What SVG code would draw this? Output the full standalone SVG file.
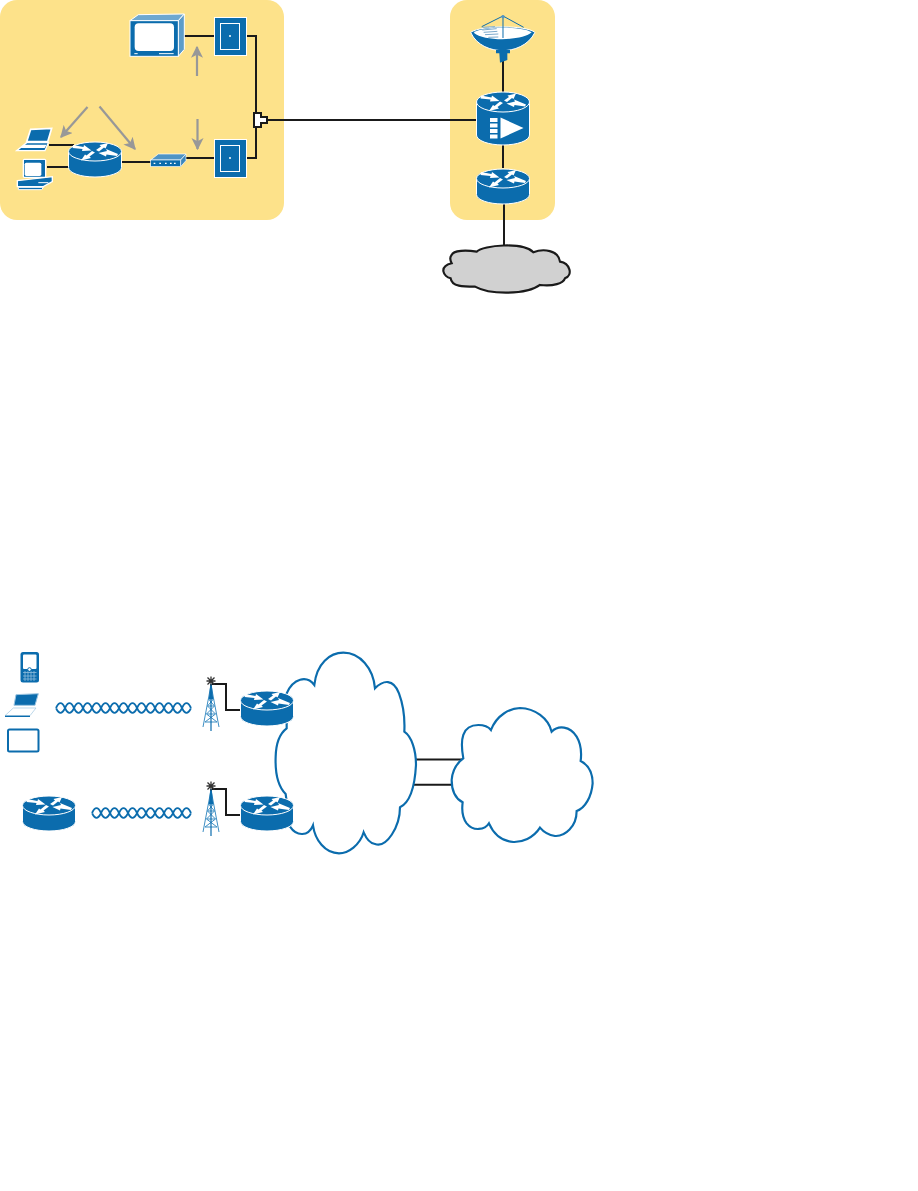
<svg xmlns="http://www.w3.org/2000/svg" width="918" height="1191" viewBox="0 0 918 1191">
<style>
.panel{fill:#fde28a}
.wire{fill:none;stroke:#1a1a1a;stroke-width:2}
.garrow{fill:none;stroke:#989898;stroke-width:2.200}
.blue{fill:#0b6cad}
.wb{fill:#0b6cad;stroke:#fff;stroke-width:1}
.wave{fill:none;stroke:#0b6cad;stroke-width:1.800}
.cloudb{fill:#fff;stroke:#0b6cad;stroke-width:6.500}
.tw{fill:none;stroke:#3f8fc4;stroke-width:1}
</style>
<defs>
<marker id="ga" viewBox="0 0 10 10" refX="9" refY="5" markerWidth="5.500" markerHeight="5.500" markerUnits="strokeWidth" orient="auto"><path d="M0 0L10 5L0 10L2.500 5Z" fill="#989898"/></marker>
<g id="rarrows" fill="#fff">
<path d="M-22 -6.500L-11.500 -4.500L-11 -6.500L-3.500 -1L-13 -0.500L-12.500 -2.500L-22.500 -3.500Z"/>
<path d="M1 -1.500L6 -5L4.500 -6.500L13 -8.500L10.500 -3L9 -4L4 0Z"/>
<path d="M0 1L-5.500 5L-4 6.500L-14 9L-10 3L-8.500 4L-3 -0.500Z"/>
<path d="M3.500 1.500L12 -0.500L11 -2.500L23 2.500L22 4.500L11.500 3L11 5Z"/>
</g>
<g id="router">
<path class="wb" d="M-26.500 -0.500V15.500A26.500 9.500 0 0 0 26.500 15.500V-0.500Z"/>
<ellipse class="wb" cx="0" cy="-0.500" rx="26.500" ry="9.500"/>
<use href="#rarrows" transform="translate(0 -0.500)"/>
</g>
<g id="jack">
<rect class="wb" x="0.500" y="0.500" width="32" height="38"/>
<rect x="6.500" y="6.500" width="19" height="26" fill="none" stroke="#fff" stroke-width="1"/>
</g>
<g id="tower">
<path class="tw" d="M0 4L-8 46M0 4L8 46M-2.500 18H2.500M-3.500 25H3.500M-4.500 33H4.500M-6 41H6M-2.500 18L3.500 25M2.500 18L-3.500 25M-3.500 25L4.500 33M3.500 25L-4.500 33M-4.500 33L6 41M4.500 33L-6 41"/>
<path d="M0 3V50" stroke="#0b6cad" stroke-width="1.200" fill="none"/>
<path d="M-0.700 3H0.700L2.200 18H-2.200Z" class="blue"/>
<path d="M-3.500 -3.500L3.500 3.500M3.500 -3.500L-3.500 3.500M0 -4.500V4.500M-4.500 0H4.500" fill="none" stroke="#333" stroke-width="1.300"/>
</g>
</defs>

<rect class="panel" x="0" y="0" width="284" height="220" rx="17"/>
<rect class="panel" x="450" y="0" width="105" height="220" rx="17"/>

<g id="connectors">
<path class="wire" d="M184 36H230"/>
<path class="wire" d="M246 36H256V113"/>
<path class="wire" d="M256 127V158H246"/>
<path class="wire" d="M186 158H230"/>
<path class="wire" d="M122 162H151"/>
<path class="wire" d="M49 145H74"/>
<path class="wire" d="M47 167H69"/>
<path class="wire" d="M267 120H476"/>
<path class="wire" d="M503 61V92"/>
<path class="wire" d="M503 145V168"/>
<path class="wire" d="M504 204V245"/>
<path class="wire" d="M212 684H226V710H241"/>
<path class="wire" d="M212 789H226V815H241"/>
<path class="wire" d="M414 759.500H464"/>
<path class="wire" d="M414 784.800H454"/>
<path class="garrow" marker-end="url(#ga)" d="M197 76V47"/>
<path class="garrow" marker-end="url(#ga)" d="M197.500 119V149"/>
<path class="garrow" marker-end="url(#ga)" d="M87.500 107L61 137"/>
<path class="garrow" marker-end="url(#ga)" d="M99.500 106.500L135 149"/>
</g>

<g id="splitter"><path d="M254 113H261V117H267V123H261V127H254Z" fill="#fff" stroke="#1a1a1a" stroke-width="2"/></g>

<g id="tv" transform="translate(125 10) scale(.3333)">
<path d="M15 32L40 14L178 12L160 32Z" fill="#6fa8d0" stroke="#fff" stroke-width="3"/>
<path d="M160 32L178 12V118L160 139Z" fill="#5d9cc9" stroke="#fff" stroke-width="3"/>
<rect x="15" y="32" width="145" height="107" fill="#0b6cad" stroke="#fff" stroke-width="3"/>
<rect x="29" y="40" width="118" height="83" rx="12" fill="#fff"/>
<path d="M28 131H38M102 131H146" stroke="#fff" stroke-width="3"/>
</g>
<use id="jack1" href="#jack" transform="translate(214 17)"/>
<use id="jack2" href="#jack" transform="translate(214 139)"/>
<circle cx="230" cy="36" r="1" fill="#fff"/>
<circle cx="230" cy="158" r="1" fill="#fff"/>

<g id="laptop1" transform="translate(10 120) scale(.3333)">
<path d="M62 28L125 25L113 65L50 65Z" fill="#0b6cad" stroke="#fff" stroke-width="5"/>
<path d="M50 68H115L105 92H20Z" fill="#0b6cad" stroke="#fff" stroke-width="4"/>
<path d="M42 74H110L104 84H30Z" fill="#fff"/>
</g>
<g id="pc1" transform="translate(10 120) scale(.3333)">
<path d="M22 182L127 170V185L100 200H22Z" fill="#0b6cad" stroke="#fff" stroke-width="4"/>
<path d="M25 202H100L95 209H25Z" fill="#0b6cad" stroke="#fff" stroke-width="3"/>
<rect x="40" y="118" width="67" height="54" rx="3" fill="#0b6cad" stroke="#fff" stroke-width="4"/>
<rect x="44" y="128" width="50" height="40" rx="5" fill="#fff"/>
<path d="M85 188H115" stroke="#fff" stroke-width="3"/>
</g>
<use id="router-home" href="#router" transform="translate(95 152)"/>
<g id="modem" transform="scale(.3333)">
<path d="M452 480L475 462H558L542 480Z" fill="#4f94c5" stroke="#fff" stroke-width="2"/>
<path d="M542 480L558 462V482L542 500Z" fill="#3b87bd" stroke="#fff" stroke-width="2"/>
<rect x="452" y="480" width="90" height="20" fill="#0b6cad" stroke="#fff" stroke-width="2"/>
<path d="M461 490h5M478 490h5M495 490h5M510 490h5M522 490h5" stroke="#fff" stroke-width="4"/>
</g>

<g id="dish" transform="translate(465 10) scale(.3333)">
<path d="M17 67C50 45 180 45 210 67C190 108 145 122 113 122C80 122 35 108 17 67Z" fill="#0b6cad" stroke="#fff" stroke-width="3"/>
<path d="M26 68C55 48 175 48 200 67C175 92 60 96 26 68Z" fill="#fff"/>
<path d="M52 52L90 50M52 60L95 56M56 67L97 64M60 74L100 72M70 82L100 81" stroke="#7aa9cc" stroke-width="3"/>
<path d="M114 18L50 50M114 18L176 52M114 18V84" fill="none" stroke="#0b6cad" stroke-width="3"/>
<circle cx="114" cy="20" r="5" fill="#4f94c5"/>
<path d="M93 120H135V130H127V150L105 158L103 130H93Z" fill="#0b6cad"/>
</g>
<g id="router-amp">
<path class="wb" d="M476.500 102V135A26.500 10 0 0 0 529.500 135V102Z"/>
<ellipse class="wb" cx="503" cy="102" rx="26.500" ry="10"/>
<use href="#rarrows" transform="translate(503 102)"/>
<path d="M490 118h7.500v4h-7.500zM490 123.500h7.500v4h-7.500zM490 129h7.500v4h-7.500zM490 134.500h7.500v4h-7.500z" fill="#fff"/>
<path d="M500.500 117.500V138.500L523.500 128Z" fill="#fff"/>
</g>
<use id="router-head" href="#router" transform="translate(503 179)"/>
<g id="cloud-gray" transform="translate(430 0) scale(.3333)">
<path d="M65 765C70 750 110 750 140 755C160 735 280 725 310 757C340 745 385 750 390 785C420 790 430 825 405 835C400 850 370 860 330 855C290 885 180 885 135 860C100 860 65 860 62 835C40 830 25 800 65 790C60 780 60 770 65 765Z" fill="#d1d1d1" stroke="#1a1a1a" stroke-width="6.500"/>
</g>

<g id="phone">
<rect x="20.500" y="652" width="18.500" height="30.500" rx="2.500" fill="#0b6cad"/>
<rect x="23" y="654.500" width="13.500" height="14.500" rx="1" fill="#fff"/>
<path d="M23 672.500h13.500M23 676h13.500M23 679h13.500M25 671v10M28 671v10M31 671v10M34 671v10" stroke="#8fbcdc" stroke-width=".8"/>
<circle cx="29.500" cy="669.500" r="1.800" fill="#fff" stroke="#0b6cad" stroke-width="1"/>
</g>
<g id="laptop2" transform="translate(0 648) scale(.3333)">
<path d="M48 140L115 137L105 172L42 172Z" fill="#0b6cad" stroke="#9cc4e0" stroke-width="3"/>
<path d="M40 180H108L90 203H15Z" fill="#fff" stroke="#9cc4e0" stroke-width="2"/>
<path d="M15 205H90" stroke="#0b6cad" stroke-width="4"/>
</g>
<g id="tablet"><rect x="8" y="729.500" width="30.500" height="22" rx="1.500" fill="#fff" stroke="#0b6cad" stroke-width="2"/></g>

<path id="wave1" class="wave" d="M56 708c3 -6.500 6 -6.500 9 0s6 6.500 9 0s6 -6.500 9 0s6 6.500 9 0s6 -6.500 9 0s6 6.500 9 0s6 -6.500 9 0s6 6.500 9 0s6 -6.500 9 0s6 6.500 9 0s6 -6.500 9 0s6 6.500 9 0s6 -6.500 9 0s6 6.500 9 0s6 -6.500 9 0M56 708c3 6.500 6 6.500 9 0s6 -6.500 9 0s6 6.500 9 0s6 -6.500 9 0s6 6.500 9 0s6 -6.500 9 0s6 6.500 9 0s6 -6.500 9 0s6 6.500 9 0s6 -6.500 9 0s6 6.500 9 0s6 -6.500 9 0s6 6.500 9 0s6 -6.500 9 0s6 6.500 9 0"/>
<path id="wave2" class="wave" d="M92 813c3 -6.500 6 -6.500 9 0s6 6.500 9 0s6 -6.500 9 0s6 6.500 9 0s6 -6.500 9 0s6 6.500 9 0s6 -6.500 9 0s6 6.500 9 0s6 -6.500 9 0s6 6.500 9 0s6 -6.500 9 0M92 813c3 6.500 6 6.500 9 0s6 -6.500 9 0s6 6.500 9 0s6 -6.500 9 0s6 6.500 9 0s6 -6.500 9 0s6 6.500 9 0s6 -6.500 9 0s6 6.500 9 0s6 -6.500 9 0s6 6.500 9 0"/>
<use id="tower1" href="#tower" transform="translate(211 681)"/>
<use id="tower2" href="#tower" transform="translate(211 786)"/>

<g id="cloud-large" transform="translate(265 640) scale(.3333)">
<path class="cloudb" d="M65 160C85 115 125 105 148 135C155 70 195 38 235 38C285 38 325 85 330 145C355 120 385 115 402 160C415 195 420 235 418 275C440 290 453 330 453 375C450 430 440 485 405 502C405 560 365 625 330 612C315 610 305 598 296 577C285 615 250 640 222 640C180 640 150 600 144 556C130 590 95 590 75 560L62 462C40 440 30 400 32 350C33 310 45 280 65 265Z"/>
</g>
<g id="cloud-small" transform="translate(265 640) scale(.3333)">
<path class="cloudb" d="M595 355C585 300 590 255 640 255C655 255 670 260 678 270C695 225 735 205 765 204C810 205 850 235 860 275C880 255 915 258 935 290C950 315 950 340 947 363C970 375 983 400 983 430C980 470 960 505 935 513C935 560 900 590 870 588C850 585 835 575 825 563C805 595 770 607 745 606C710 603 685 580 672 550C660 570 625 575 605 550C590 530 590 510 593 487C570 475 560 450 560 420C562 395 575 370 595 355Z"/>
</g>
<use id="router-a" href="#router" transform="translate(267 701)"/>
<use id="router-b" href="#router" transform="translate(267 806)"/>
<use id="router-c" href="#router" transform="translate(49 806)"/>
</svg>
